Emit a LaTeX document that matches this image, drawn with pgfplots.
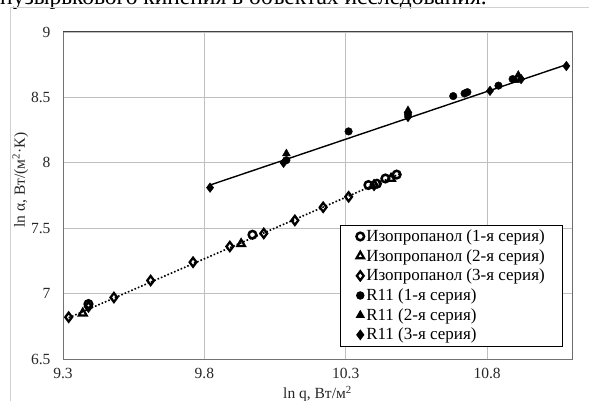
\documentclass[border=0pt]{standalone}
\usepackage{fontspec}
\setmainfont{Liberation Serif}
\usepackage{pgfplots}
\pgfplotsset{compat=1.18}
\begin{document}
\begin{tikzpicture}
\path[use as bounding box] (0bp,0bp) rectangle (589bp,401bp);
% heading line of the page, cut by the picture's top edge
\node[anchor=base west, inner sep=0, font=\fontsize{23.5bp}{26bp}\selectfont] at (0bp,396bp) {пузырькового кипения в объектах исследования.};
% chart area frame
\draw[black!18, line width=1bp] (10bp,-5bp) -- (10bp,393bp) -- (600bp,393bp);
\begin{axis}[
  at={(63bp,42bp)}, anchor=south west, scale only axis,
  width=509bp, height=327bp,
  xmin=9.3, xmax=11.1, ymin=6.5, ymax=9,
  xtick={9.3,9.8,10.3,10.8}, ytick={6.5,7,7.5,8,8.5,9},
  major tick length=0pt,
  grid=major, grid style={black!25, line width=0.9bp},
  axis line style={black!55, line width=1bp},
  tick label style={font=\fontsize{15.5bp}{18bp}\selectfont, black!85},
  /pgf/number format/assume math mode=true,
  /pgf/number format/.cd, fixed, precision=1, /pgfplots/.cd,
  xticklabel style={yshift=-6bp},
  yticklabel style={xshift=-9bp},
  xlabel={ln q, Вт/м\textsuperscript{2}},
  ylabel={ln α, Вт/(м\textsuperscript{2}·К)},
  label style={font=\fontsize{15.5bp}{18bp}\selectfont, black!85},
  xlabel style={at={(axis description cs:0.5,0)}, anchor=center, yshift=-35bp},
  ylabel style={at={(axis description cs:-0.084,0.547)}, anchor=center},
  legend style={at={(0.544,0.41)}, anchor=north west, draw=black, line width=0.8bp,
    fill=white, font=\fontsize{17bp}{19bp}\selectfont, inner xsep=16bp, inner ysep=2.5bp,
    row sep=2.4bp, /tikz/every even column/.append style={column sep=1bp}},
  legend cell align=left,
  legend image code/.code={\draw[mark repeat=2,mark phase=2,#1] plot coordinates {(0bp,0bp) (6bp,0bp) (12bp,0bp)};},
]
% trend lines
\addplot[forget plot, black, dotted, line width=1.6bp] coordinates {(9.32,6.815) (10.49,7.915)};
\addplot[forget plot, black, line width=1.4bp] coordinates {(9.82,7.83) (11.08,8.75)};
% isopropanol
\addplot[only marks, line width=2.5bp, mark=o, mark size=3.8bp, mark options={line width=2.5bp, fill=white}] coordinates {
(9.39,6.92) (9.97,7.45) (10.38,7.83) (10.41,7.84) (10.44,7.88) (10.48,7.91)};
\addplot[only marks, line width=2.2bp, mark=triangle, mark size=4.4bp, mark options={line width=2.2bp, fill=white}] coordinates {
(9.37,6.85) (9.93,7.38) (10.46,7.88)};
\addplot[only marks, line width=2.3bp, mark=diamond, mark size=4.5bp, mark options={line width=2.3bp, fill=white}] coordinates {
(9.32,6.82) (9.39,6.90) (9.48,6.97) (9.61,7.10) (9.76,7.24) (9.89,7.36) (10.01,7.46)
(10.12,7.56) (10.22,7.66) (10.31,7.74) (10.40,7.83)};
% R11
\addplot[only marks, mark=*, mark size=3.8bp, mark options={fill=black}] coordinates {
(10.09,8.02) (10.31,8.24) (10.52,8.37) (10.68,8.51) (10.72,8.53) (10.73,8.54) (10.84,8.59) (10.89,8.64)};
\addplot[only marks, mark=triangle*, mark size=4.6bp, mark options={fill=black}] coordinates {
(10.09,8.07) (10.52,8.40) (10.90,8.63) (10.91,8.67)};
\addplot[only marks, mark=diamond*, mark size=4.8bp, mark options={fill=black}] coordinates {
(9.82,7.81) (10.08,8.00) (10.52,8.35) (10.81,8.55) (10.92,8.64) (11.08,8.74)};
\legend{Изопропанол (1-я серия), Изопропанол (2-я серия), Изопропанол (3-я серия),
R11 (1-я серия), R11 (2-я серия), R11 (3-я серия)}
\draw[black!75, line width=1bp] (rel axis cs:0,1) -- (rel axis cs:1,1) -- (rel axis cs:1,0);
\end{axis}
\end{tikzpicture}
\end{document}
